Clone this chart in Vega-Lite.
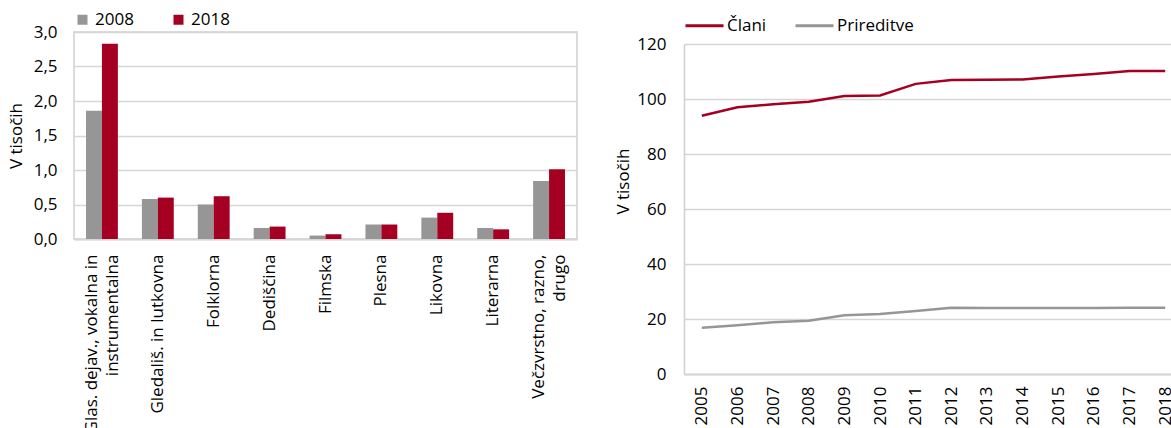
{
  "$schema": "https://vega.github.io/schema/vega-lite/v6.json",
  "padding": {"left": 6, "top": 5, "right": 0, "bottom": 0},
  "background": "white",
  "config": {
    "font": "Open Sans",
    "view": {"stroke": "#d0d0d0", "strokeWidth": 1.5}
  },
  "datasets": {
    "dejavnosti": [
      {"kat": "Glas. dejav., vokalna in|instrumentalna", "leto": "2008", "vrednost": 1.86},
      {"kat": "Glas. dejav., vokalna in|instrumentalna", "leto": "2018", "vrednost": 2.83},
      {"kat": "Gledališ. in lutkovna", "leto": "2008", "vrednost": 0.58},
      {"kat": "Gledališ. in lutkovna", "leto": "2018", "vrednost": 0.60},
      {"kat": "Folklorna", "leto": "2008", "vrednost": 0.50},
      {"kat": "Folklorna", "leto": "2018", "vrednost": 0.62},
      {"kat": "Dediščina", "leto": "2008", "vrednost": 0.16},
      {"kat": "Dediščina", "leto": "2018", "vrednost": 0.18},
      {"kat": "Filmska", "leto": "2008", "vrednost": 0.05},
      {"kat": "Filmska", "leto": "2018", "vrednost": 0.07},
      {"kat": "Plesna", "leto": "2008", "vrednost": 0.21},
      {"kat": "Plesna", "leto": "2018", "vrednost": 0.21},
      {"kat": "Likovna", "leto": "2008", "vrednost": 0.31},
      {"kat": "Likovna", "leto": "2018", "vrednost": 0.38},
      {"kat": "Literarna", "leto": "2008", "vrednost": 0.16},
      {"kat": "Literarna", "leto": "2018", "vrednost": 0.14},
      {"kat": "Večzvrstno, razno,|drugo", "leto": "2008", "vrednost": 0.84},
      {"kat": "Večzvrstno, razno,|drugo", "leto": "2018", "vrednost": 1.01}
    ],
    "casovna": [
      {"leto": "2005", "serija": "Člani", "v": 93.9},
      {"leto": "2006", "serija": "Člani", "v": 97.0},
      {"leto": "2007", "serija": "Člani", "v": 98.1},
      {"leto": "2008", "serija": "Člani", "v": 99.0},
      {"leto": "2009", "serija": "Člani", "v": 101.1},
      {"leto": "2010", "serija": "Člani", "v": 101.3},
      {"leto": "2011", "serija": "Člani", "v": 105.5},
      {"leto": "2012", "serija": "Člani", "v": 106.9},
      {"leto": "2013", "serija": "Člani", "v": 107.0},
      {"leto": "2014", "serija": "Člani", "v": 107.1},
      {"leto": "2015", "serija": "Člani", "v": 108.2},
      {"leto": "2016", "serija": "Člani", "v": 109.1},
      {"leto": "2017", "serija": "Člani", "v": 110.2},
      {"leto": "2018", "serija": "Člani", "v": 110.2},
      {"leto": "2005", "serija": "Prireditve", "v": 16.8},
      {"leto": "2006", "serija": "Prireditve", "v": 17.7},
      {"leto": "2007", "serija": "Prireditve", "v": 18.8},
      {"leto": "2008", "serija": "Prireditve", "v": 19.4},
      {"leto": "2009", "serija": "Prireditve", "v": 21.4},
      {"leto": "2010", "serija": "Prireditve", "v": 21.8},
      {"leto": "2011", "serija": "Prireditve", "v": 22.9},
      {"leto": "2012", "serija": "Prireditve", "v": 24.1},
      {"leto": "2013", "serija": "Prireditve", "v": 24.0},
      {"leto": "2014", "serija": "Prireditve", "v": 24.0},
      {"leto": "2015", "serija": "Prireditve", "v": 24.0},
      {"leto": "2016", "serija": "Prireditve", "v": 24.0},
      {"leto": "2017", "serija": "Prireditve", "v": 24.1},
      {"leto": "2018", "serija": "Prireditve", "v": 24.1}
    ]
  },
  "spacing": 36,
  "resolve": {"scale": {"color": "independent", "x": "independent", "y": "independent"}, "legend": {"color": "independent"}},
  "hconcat": [
    {
      "width": 503,
      "height": 207,
      "data": {"name": "dejavnosti"},
      "mark": {"type": "bar"},
      "encoding": {
        "x": {
          "field": "kat", "type": "nominal",
          "sort": ["Glas. dejav., vokalna in|instrumentalna", "Gledališ. in lutkovna", "Folklorna", "Dediščina", "Filmska", "Plesna", "Likovna", "Literarna", "Večzvrstno, razno,|drugo"],
          "scale": {"paddingInner": 0.43, "paddingOuter": 0.215},
          "axis": {"title": null, "labelAngle": -90, "labelAlign": "right", "labelBaseline": "middle", "labelExpr": "split(datum.label, '|')", "labelOffset": {"condition": {"test": "indexof(datum.value, '|') >= 0", "value": -10}, "value": 0}, "labelPadding": 15, "labelLineHeight": 21, "labelLimit": 0, "grid": false, "ticks": false, "labelFont": "Open Sans", "labelFontSize": 17, "labelColor": "#000000", "domainColor": "#d6d6d6", "domainWidth": 2}
        },
        "xOffset": {"field": "leto", "type": "nominal", "scale": {"paddingInner": 0, "paddingOuter": 0}},
        "y": {
          "field": "vrednost", "type": "quantitative",
          "scale": {"domain": [0, 3]},
          "axis": {"title": "V tisočih", "values": [0, 0.5, 1, 1.5, 2, 2.5, 3], "labelExpr": "replace(format(datum.value, '.1f'), '.', ',')", "labelPadding": 17, "titlePadding": 8, "domain": false, "ticks": false, "labelFont": "Open Sans", "labelFontSize": 17, "labelColor": "#000000", "titleFont": "Open Sans", "titleFontSize": 17, "titleFontWeight": "normal", "titleColor": "#000000", "gridColor": "#d6d6d6", "gridWidth": 1.5}
        },
        "color": {
          "field": "leto", "type": "nominal",
          "scale": {"domain": ["2008", "2018"], "range": ["#969696", "#A50021"]},
          "legend": {"title": null, "orient": "top", "direction": "horizontal", "symbolType": "square", "symbolSize": 100, "symbolStrokeWidth": 0, "columnPadding": 36, "labelOffset": 4, "offset": 4, "padding": 0, "labelFont": "Open Sans", "labelFontSize": 17, "labelColor": "#000000"}
        }
      }
    },
    {
      "width": 499,
      "height": 342,
      "view": {"stroke": null},
      "data": {"name": "casovna"},
      "mark": {"type": "line", "strokeWidth": 2.5},
      "encoding": {
        "x": {
          "field": "leto", "type": "ordinal",
          "scale": {"type": "point", "padding": 0.5},
          "axis": {"title": null, "labelAngle": -90, "labelAlign": "right", "labelBaseline": "middle", "labelPadding": 12, "grid": false, "ticks": false, "labelFont": "Open Sans", "labelFontSize": 17, "labelColor": "#000000", "domainColor": "#d6d6d6", "domainWidth": 2}
        },
        "y": {
          "field": "v", "type": "quantitative",
          "scale": {"domain": [0, 120], "range": [342, 12]},
          "axis": {"title": "V tisočih", "values": [0, 20, 40, 60, 80, 100, 120], "labelPadding": 18, "titlePadding": 4, "titleY": 149, "domain": true, "domainColor": "#d0d0d0", "domainWidth": 1.5, "ticks": false, "labelFont": "Open Sans", "labelFontSize": 17, "labelColor": "#000000", "titleFont": "Open Sans", "titleFontSize": 17, "titleFontWeight": "normal", "titleColor": "#000000", "gridColor": "#d6d6d6", "gridWidth": 1.5}
        },
        "color": {
          "field": "serija", "type": "nominal",
          "scale": {"domain": ["Člani", "Prireditve"], "range": ["#A50021", "#969696"]},
          "legend": {"title": null, "orient": "top", "direction": "horizontal", "symbolType": "stroke", "symbolSize": 1444, "symbolStrokeWidth": 3, "columnPadding": 22, "labelOffset": 2, "offset": -2, "padding": 0, "labelFont": "Open Sans", "labelFontSize": 17, "labelColor": "#000000"}
        }
      }
    }
  ]
}
